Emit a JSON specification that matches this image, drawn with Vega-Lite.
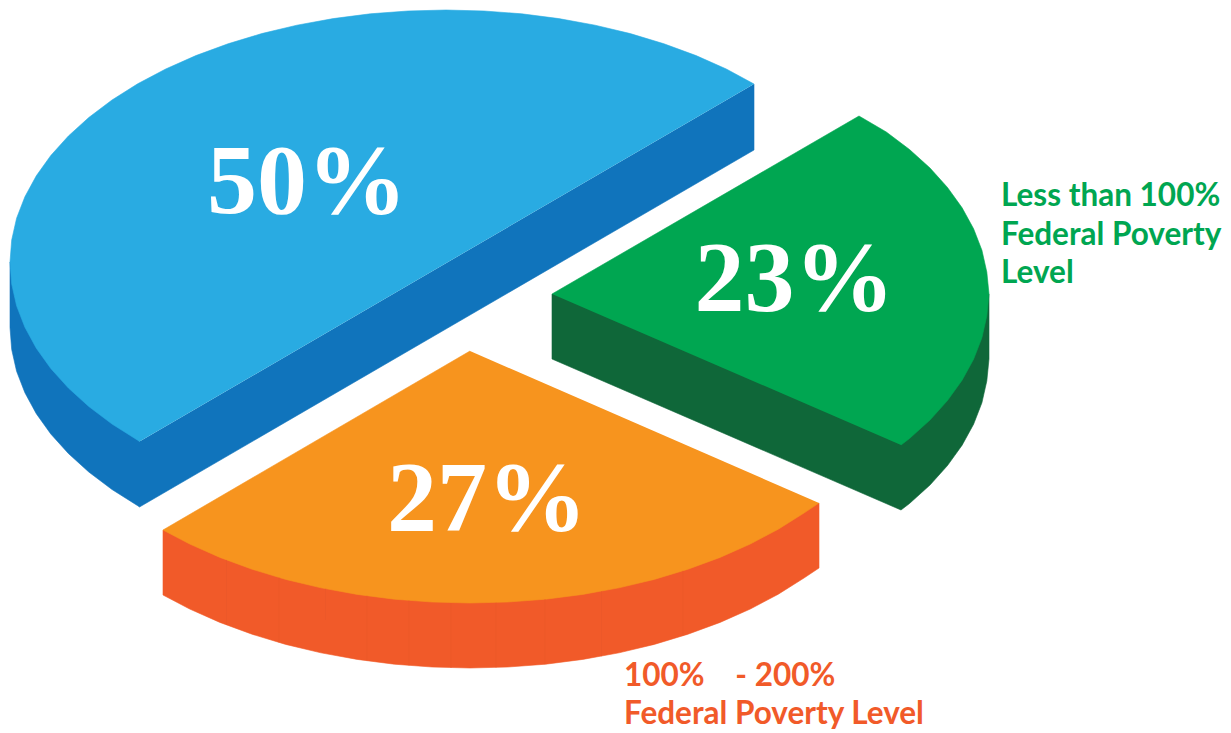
{
"$schema":"https://vega.github.io/schema/vega-lite/v6.json",
"width":1231,"height":733,"padding":0,
"autosize":{"type":"fit","contains":"padding"},
"background":"white",
"config":{"view":{"stroke":null}},
"datasets":{
"outlines":[
{"part":"blue side","seq":1,"x":754,"y":84},{"part":"blue side","seq":2,"x":754,"y":150},{"part":"blue side","seq":3,"x":139.5,"y":507},{"part":"blue side","seq":4,"x":137.7,"y":505.7},{"part":"blue side","seq":5,"x":112,"y":489.5},{"part":"blue side","seq":6,"x":88.8,"y":472},{"part":"blue side","seq":7,"x":68.4,"y":453.5},{"part":"blue side","seq":8,"x":50.8,"y":434},{"part":"blue side","seq":9,"x":36.3,"y":413.7},{"part":"blue side","seq":10,"x":24.9,"y":392.7},{"part":"blue side","seq":11,"x":16.6,"y":371.3},{"part":"blue side","seq":12,"x":11.7,"y":349.5},{"part":"blue side","seq":13,"x":10,"y":327.5},{"part":"blue side","seq":14,"x":10,"y":262},{"part":"blue side","seq":15,"x":139.5,"y":441.5},
{"part":"blue top","seq":1,"x":754,"y":84},{"part":"blue top","seq":2,"x":726.3,"y":69},{"part":"blue top","seq":3,"x":696.1,"y":55.6},{"part":"blue top","seq":4,"x":664,"y":43.8},{"part":"blue top","seq":5,"x":630.3,"y":33.6},{"part":"blue top","seq":6,"x":595.1,"y":25.2},{"part":"blue top","seq":7,"x":558.8,"y":18.6},{"part":"blue top","seq":8,"x":521.7,"y":13.8},{"part":"blue top","seq":9,"x":484,"y":11},{"part":"blue top","seq":10,"x":446,"y":10},{"part":"blue top","seq":11,"x":408,"y":11},{"part":"blue top","seq":12,"x":370.3,"y":13.8},{"part":"blue top","seq":13,"x":333.2,"y":18.6},{"part":"blue top","seq":14,"x":296.9,"y":25.2},{"part":"blue top","seq":15,"x":261.7,"y":33.6},{"part":"blue top","seq":16,"x":228,"y":43.8},{"part":"blue top","seq":17,"x":195.9,"y":55.6},{"part":"blue top","seq":18,"x":165.7,"y":69},{"part":"blue top","seq":19,"x":137.7,"y":83.8},{"part":"blue top","seq":20,"x":112,"y":100},{"part":"blue top","seq":21,"x":88.8,"y":117.5},{"part":"blue top","seq":22,"x":68.4,"y":136},{"part":"blue top","seq":23,"x":50.8,"y":155.5},{"part":"blue top","seq":24,"x":36.3,"y":175.8},{"part":"blue top","seq":25,"x":24.9,"y":196.8},{"part":"blue top","seq":26,"x":16.6,"y":218.2},{"part":"blue top","seq":27,"x":11.7,"y":240},{"part":"blue top","seq":28,"x":10,"y":262},{"part":"blue top","seq":29,"x":11.7,"y":284},{"part":"blue top","seq":30,"x":16.6,"y":305.8},{"part":"blue top","seq":31,"x":24.9,"y":327.2},{"part":"blue top","seq":32,"x":36.3,"y":348.2},{"part":"blue top","seq":33,"x":50.8,"y":368.5},{"part":"blue top","seq":34,"x":68.4,"y":388},{"part":"blue top","seq":35,"x":88.8,"y":406.5},{"part":"blue top","seq":36,"x":112,"y":424},{"part":"blue top","seq":37,"x":137.7,"y":440.2},{"part":"blue top","seq":38,"x":139.5,"y":441.5},
{"part":"green side","seq":1,"x":552,"y":294},{"part":"green side","seq":2,"x":552,"y":359},{"part":"green side","seq":3,"x":901,"y":510},{"part":"green side","seq":4,"x":909.5,"y":503.5},{"part":"green side","seq":5,"x":930,"y":485},{"part":"green side","seq":6,"x":947.5,"y":465.5},{"part":"green side","seq":7,"x":962.1,"y":445.2},{"part":"green side","seq":8,"x":973.6,"y":424.2},{"part":"green side","seq":9,"x":981.9,"y":402.8},{"part":"green side","seq":10,"x":986.8,"y":381},{"part":"green side","seq":11,"x":989,"y":359},{"part":"green side","seq":12,"x":989,"y":294},
{"part":"green top","seq":1,"x":552,"y":294},{"part":"green top","seq":2,"x":859,"y":116},{"part":"green top","seq":3,"x":886.3,"y":132},{"part":"green top","seq":4,"x":909.5,"y":149.5},{"part":"green top","seq":5,"x":930,"y":168},{"part":"green top","seq":6,"x":947.5,"y":187.5},{"part":"green top","seq":7,"x":962.1,"y":207.8},{"part":"green top","seq":8,"x":973.6,"y":228.8},{"part":"green top","seq":9,"x":981.9,"y":250.2},{"part":"green top","seq":10,"x":986.8,"y":272},{"part":"green top","seq":11,"x":989,"y":294},{"part":"green top","seq":12,"x":986.8,"y":316},{"part":"green top","seq":13,"x":981.9,"y":337.8},{"part":"green top","seq":14,"x":973.6,"y":359.2},{"part":"green top","seq":15,"x":962.1,"y":380.2},{"part":"green top","seq":16,"x":947.5,"y":400.5},{"part":"green top","seq":17,"x":930,"y":420},{"part":"green top","seq":18,"x":909.5,"y":438.5},{"part":"green top","seq":19,"x":901,"y":445},
{"part":"orange side","seq":1,"x":163,"y":530},{"part":"orange side","seq":2,"x":163,"y":595},{"part":"orange side","seq":3,"x":189.7,"y":609},{"part":"orange side","seq":4,"x":219.9,"y":622.4},{"part":"orange side","seq":5,"x":252,"y":634.2},{"part":"orange side","seq":6,"x":285.7,"y":644.4},{"part":"orange side","seq":7,"x":320.9,"y":652.8},{"part":"orange side","seq":8,"x":357.2,"y":659.4},{"part":"orange side","seq":9,"x":394.3,"y":664.2},{"part":"orange side","seq":10,"x":432,"y":667},{"part":"orange side","seq":11,"x":470,"y":668},{"part":"orange side","seq":12,"x":508,"y":667},{"part":"orange side","seq":13,"x":545.7,"y":664.2},{"part":"orange side","seq":14,"x":582.8,"y":659.4},{"part":"orange side","seq":15,"x":619.1,"y":652.8},{"part":"orange side","seq":16,"x":654.3,"y":644.4},{"part":"orange side","seq":17,"x":688,"y":634.2},{"part":"orange side","seq":18,"x":720.1,"y":622.4},{"part":"orange side","seq":19,"x":750.3,"y":609},{"part":"orange side","seq":20,"x":778.3,"y":594.2},{"part":"orange side","seq":21,"x":804,"y":578},{"part":"orange side","seq":22,"x":819,"y":568},{"part":"orange side","seq":23,"x":819,"y":503},
{"part":"orange top","seq":1,"x":470,"y":351},{"part":"orange top","seq":2,"x":163,"y":530},{"part":"orange top","seq":3,"x":189.7,"y":544},{"part":"orange top","seq":4,"x":219.9,"y":557.4},{"part":"orange top","seq":5,"x":252,"y":569.2},{"part":"orange top","seq":6,"x":285.7,"y":579.4},{"part":"orange top","seq":7,"x":320.9,"y":587.8},{"part":"orange top","seq":8,"x":357.2,"y":594.4},{"part":"orange top","seq":9,"x":394.3,"y":599.2},{"part":"orange top","seq":10,"x":432,"y":602},{"part":"orange top","seq":11,"x":470,"y":603},{"part":"orange top","seq":12,"x":508,"y":602},{"part":"orange top","seq":13,"x":545.7,"y":599.2},{"part":"orange top","seq":14,"x":582.8,"y":594.4},{"part":"orange top","seq":15,"x":619.1,"y":587.8},{"part":"orange top","seq":16,"x":654.3,"y":579.4},{"part":"orange top","seq":17,"x":688,"y":569.2},{"part":"orange top","seq":18,"x":720.1,"y":557.4},{"part":"orange top","seq":19,"x":750.3,"y":544},{"part":"orange top","seq":20,"x":778.3,"y":529.2},{"part":"orange top","seq":21,"x":804,"y":513},{"part":"orange top","seq":22,"x":819,"y":503}
],
"seams":[
{"x":226.5,"y":560,"y2":625},{"x":279,"y":577.5,"y2":642.5},{"x":325.5,"y":588.8,"y2":620},{"x":367,"y":595.9,"y2":660.9},{"x":409,"y":600.5,"y2":665.5},{"x":451,"y":603,"y2":668},{"x":496,"y":602.6,"y2":667.6},{"x":545,"y":599.2,"y2":664.2},{"x":601.5,"y":591.3,"y2":656.3},{"x":683,"y":570.9,"y2":635.9}
],
"percents":[
{"label":"50%","x":307,"y":213},{"label":"23%","x":794.5,"y":310},{"label":"27%","x":487,"y":530}
],
"captions":[
{"label":"Less than 100%","group":"below 100","x":1001,"y":206},{"label":"Federal Poverty","group":"below 100","x":1001,"y":245},{"label":"Level","group":"below 100","x":1001,"y":283},
{"label":"100%\u00a0\u00a0\u00a0\u00a0- 200%","group":"100 to 200","x":624,"y":686},{"label":"Federal Poverty Level","group":"100 to 200","x":624,"y":724}
]
},
"layer":[
{"data":{"name":"outlines"},
 "mark":{"type":"line","strokeWidth":0.6,"strokeJoin":"round"},
 "encoding":{
  "x":{"field":"x","type":"quantitative","scale":{"domain":[0,1231],"nice":false,"zero":false},"axis":null},
  "y":{"field":"y","type":"quantitative","scale":{"domain":[733,0],"nice":false,"zero":false},"axis":null},
  "order":{"field":"seq"},
  "fill":{"field":"part","type":"nominal","legend":null,"sort":null,"scale":{"domain":["blue side","blue top","green side","green top","orange side","orange top"],"range":["#1074BC","#29ABE2","#0F6739","#00A651","#F15A29","#F7941E"]}},
  "stroke":{"field":"part","type":"nominal","legend":null,"sort":null,"scale":{"domain":["blue side","blue top","green side","green top","orange side","orange top"],"range":["#1074BC","#29ABE2","#0F6739","#00A651","#F15A29","#F7941E"]}}
 }},
{"data":{"name":"seams"},
 "mark":{"type":"rule","color":"#E9572A","strokeWidth":0.6},
 "encoding":{
  "x":{"field":"x","type":"quantitative"},
  "y":{"field":"y","type":"quantitative"},
  "y2":{"field":"y2"}
 }},
{"data":{"name":"percents"},
 "mark":{"type":"text","font":"Liberation Serif","fontWeight":"bold","fontSize":100,"align":"center","baseline":"alphabetic","color":"white"},
 "encoding":{
  "x":{"field":"x","type":"quantitative"},
  "y":{"field":"y","type":"quantitative"},
  "text":{"field":"label"}
 }},
{"data":{"name":"captions"},
 "mark":{"type":"text","font":"Lato","fontWeight":"bold","fontSize":31.5,"align":"left","baseline":"alphabetic"},
 "encoding":{
  "x":{"field":"x","type":"quantitative"},
  "y":{"field":"y","type":"quantitative"},
  "text":{"field":"label"},
  "color":{"field":"group","type":"nominal","legend":null,"scale":{"domain":["below 100","100 to 200"],"range":["#00A651","#F15A29"]}}
 }}
]
}
